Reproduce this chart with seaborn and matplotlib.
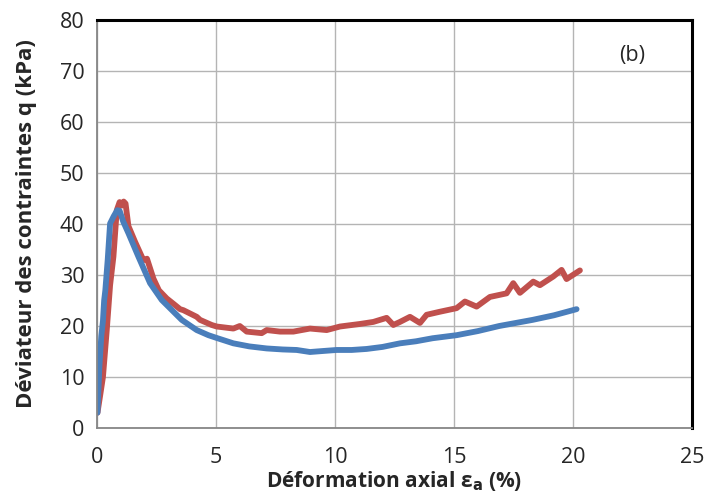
import matplotlib
matplotlib.use("Agg")
import matplotlib.pyplot as plt
from matplotlib.ticker import MultipleLocator
import pandas as pd
import seaborn as sns

# red test
red_x = [0.02, 0.12, 0.25, 0.41, 0.55, 0.69, 0.83, 0.95, 1.04, 1.12, 1.2, 1.32,
         1.6, 1.95, 2.1, 2.37, 2.6, 2.93, 3.2, 3.49, 3.63, 4.19, 4.33, 4.82, 5.03,
         5.73, 6.0, 6.29, 6.92, 7.13, 7.69, 8.25, 8.95, 9.65, 10.21, 11.05, 11.61,
         11.89, 12.17, 12.45, 12.73, 13.15, 13.57, 13.85, 14.41, 15.11, 15.46,
         15.95, 16.51, 17.21, 17.49, 17.77, 18.33, 18.61, 19.17, 19.52, 19.73, 20.29]
red_y = [3.0, 6.0, 10.0, 19.2, 28.0, 33.6, 42.7, 44.3, 43.6, 44.4, 44.0, 39.6,
         36.5, 32.9, 33.2, 29.3, 27.0, 25.4, 24.4, 23.3, 23.1, 21.8, 21.2, 20.2, 19.9,
         19.5, 20.0, 18.9, 18.6, 19.2, 18.9, 18.9, 19.5, 19.2, 19.9, 20.4, 20.8,
         21.2, 21.6, 20.2, 20.8, 21.8, 20.6, 22.2, 22.8, 23.5, 24.8,
         23.8, 25.7, 26.4, 28.4, 26.5, 28.7, 28.0, 29.7, 31.0, 29.2, 30.9]

# blue test
blue_x = [0.02, 0.1, 0.18, 0.25, 0.3, 0.35, 0.45, 0.55, 0.7, 0.85, 0.95, 1.1,
          1.32, 1.74, 2.23, 2.72, 3.56, 4.19, 4.68, 5.0, 5.73, 6.4, 7.13, 7.8,
          8.39, 8.95, 9.5, 10.07, 10.7, 11.33, 12.0, 12.73, 13.4, 14.1, 15.11,
          16.0, 16.9, 17.6, 18.3, 19.2, 20.15]
blue_y = [3.0, 12.0, 18.0, 21.0, 25.0, 27.0, 33.0, 40.1, 41.5, 42.7, 42.6, 40.5,
          38.2, 33.6, 28.4, 25.1, 21.2, 19.2, 18.2, 17.7, 16.6, 16.0, 15.6, 15.4,
          15.3, 14.9, 15.1, 15.3, 15.3, 15.5, 15.9, 16.6, 17.0, 17.6, 18.2,
          19.0, 20.0, 20.6, 21.2, 22.1, 23.3]

RED = "#C0504D"
BLUE = "#4A7EBB"

df = pd.concat([
    pd.DataFrame({"eps": red_x, "q": red_y, "essai": "rouge"}),
    pd.DataFrame({"eps": blue_x, "q": blue_y, "essai": "bleu"}),
])

sns.set_style("white")
plt.rcParams["font.family"] = ["Open Sans", "DejaVu Sans"]

fig = plt.figure(figsize=(7.08, 4.93), dpi=100)
ax = fig.add_axes([97 / 708, 65 / 493, 595 / 708, 408 / 493])

sns.lineplot(data=df, x="eps", y="q", hue="essai", sort=False, estimator=None,
             palette={"rouge": RED, "bleu": BLUE}, linewidth=4.2, legend=False, ax=ax)

ax.set_xlim(0, 25)
ax.set_ylim(0, 80)
ax.xaxis.set_major_locator(MultipleLocator(5))
ax.xaxis.set_minor_locator(MultipleLocator(1))
ax.yaxis.set_major_locator(MultipleLocator(10))
ax.yaxis.set_minor_locator(MultipleLocator(2))
ax.grid(True, which="major", color="#b4b4b4", linewidth=1.0)
ax.set_axisbelow(True)

for s in ["top", "right"]:
    ax.spines[s].set_color("black")
    ax.spines[s].set_linewidth(2.2)
for s in ["left", "bottom"]:
    ax.spines[s].set_color("#868686")
    ax.spines[s].set_linewidth(1.3)

ax.tick_params(axis="x", which="both", direction="out", length=5, width=1,
               color="#868686", labelsize=15.5, pad=9)
ax.tick_params(axis="y", which="both", direction="inout", length=6, width=1,
               color="#868686", labelsize=15.5, pad=6)

ax.set_xlabel("Déformation axial ε$_\\mathbf{a}$ (%)", fontsize=15, fontweight="bold")
ax.set_ylabel("Déviateur des contraintes q (kPa)", fontsize=16, fontweight="bold")
ax.xaxis.set_label_coords(0.5, -0.1)
ax.yaxis.set_label_coords(-0.1, 0.5)

ax.text(22.5, 73, "(b)", fontsize=15.5, ha="center", va="center")

fig.savefig("out.png", dpi=100)
